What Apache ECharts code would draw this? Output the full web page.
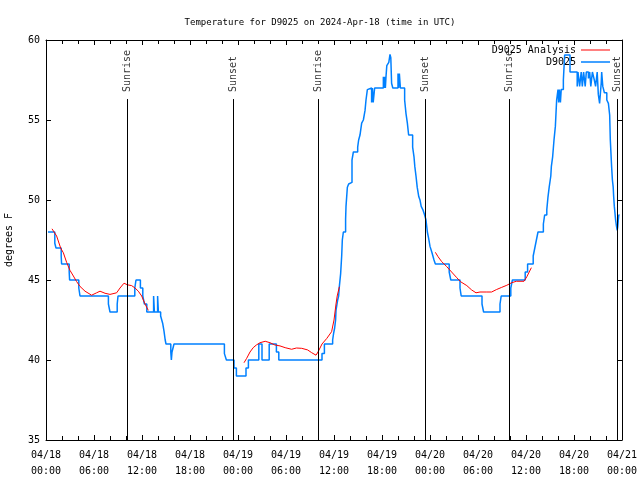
<!DOCTYPE html>
<html><head><meta charset="utf-8">
<script src="https://cdn.jsdelivr.net/npm/echarts@6/dist/echarts.min.js"></script>
<style>html,body{margin:0;padding:0;background:#fff}#c{width:640px;height:480px}</style>
</head><body><div id="c"></div>
<script>
const titleText = 'Temperature for D9025 on 2024-Apr-18 (time in UTC)';
const xTickLabels = ['04/18\n00:00','04/18\n06:00','04/18\n12:00','04/18\n18:00','04/19\n00:00','04/19\n06:00','04/19\n12:00','04/19\n18:00','04/20\n00:00','04/20\n06:00','04/20\n12:00','04/20\n18:00','04/21\n00:00'];
// hours since 04/18 00:00 UTC
const sunHours = [10.16, 23.42, 34.04, 47.42, 57.9, 71.46];
const sunNames = ['Sunrise','Sunset','Sunrise','Sunset','Sunrise','Sunset'];

// observed (step changes): hour, temperature F
const obsHours = [0.25,1.1,1.25,1.9,1.95,2.9,2.95,4.1,4.25,7.8,8.0,8.9,9.0,11.1,11.25,11.8,12.1,12.3,12.6,13.45,13.55,13.95,14.05,14.33,14.58,14.75,14.9,15.0,15.6,15.67,15.75,16.0,22.3,22.55,23.5,23.8,25.0,25.3,26.6,27.0,27.9,28.8,29.1,34.5,34.8,35.83,35.95,36.08,36.2,36.25,36.46,36.58,36.67,36.83,36.96,37.04,37.17,37.45,37.5,37.67,37.83,38.08,38.25,38.42,38.96,39.08,39.25,39.46,39.67,39.88,40.0,40.17,40.33,40.7,40.8,40.9,41.08,42.17,42.25,42.33,42.42,42.5,42.6,42.85,43.0,43.1,43.2,43.35,44.0,44.08,44.17,44.3,44.83,45.0,45.17,45.33,45.83,46.0,46.1,46.25,46.4,46.6,46.75,46.9,47.1,47.33,47.5,47.67,47.83,48.0,48.25,48.5,48.67,50.4,50.6,51.75,51.9,54.5,54.7,56.75,56.9,58.1,58.3,59.9,60.2,60.9,61.1,61.3,61.5,62.17,62.33,62.6,62.75,62.9,63.1,63.17,63.33,63.5,63.67,63.83,64.0,64.08,64.17,64.3,64.4,64.67,64.83,65.5,66.4,66.5,66.7,66.9,67.04,67.2,67.4,67.54,67.8,67.96,68.1,68.3,68.54,68.7,68.9,69.04,69.2,69.4,69.46,69.6,69.8,70.1,70.3,70.46,70.54,70.7,70.8,70.9,70.96,71.04,71.1,71.2,71.3,71.4,71.46,71.54,71.6,71.7];
const obsTemps = [48,47.3,47,46.5,46,45.5,45,44.5,44,43.5,43,43.5,44,44.5,45,44.5,44,43.5,43,44,43,44,43,42.75,42.3,41.8,41.25,41,40.5,40,40.5,41,40.4,40,39.5,39,39.5,40,41,40,41,40.5,40,40.4,41,41.25,41.67,42,42.5,43.1,43.75,44,44.6,45.4,46.5,47.5,48,48.8,49.6,50.8,51,51.1,52.5,53,53.3,53.75,54.06,54.8,55,55.6,56.25,56.9,57,56.1,57,56.1,57,57.7,57,57.7,57,57.7,58.4,58.6,59.1,58.9,57.3,57,57.9,57,57.9,57,56.25,55.4,54.8,54.06,53.3,52.7,52.1,51.5,50.8,50.2,50,49.6,49.4,49.06,48.75,48,47.6,47.1,46.7,46.25,46,45.5,45,44.5,44,43.5,43,43.5,44,44.5,45,45.5,46,46.5,47,47.5,48,48.5,49.06,49.4,50.2,50.8,51.5,52.1,52.7,53.75,54.6,56.25,56.9,56.1,56.9,56.1,56.9,57.5,59.06,58,57.1,58,57.1,58,57.1,58,57.1,58,57.6,58,57.1,58,57.5,57.1,58,56.6,56.04,57.3,58,57.1,56.7,56.25,56.04,55.3,53.75,52.1,51.25,50.8,50.2,49.6,49.3,48.75,48.4,48.1,48.3,48.75,49.06,49.06];

// analysis segments: hour, temperature F
const anaHours1 = [0.75,1.33,1.83,2.17,2.58,3.0,3.42,3.83,4.25,4.88,5.7,6.33,6.75,7.38,8.0,8.83,9.25,9.75,10.17,10.7,11.13,11.54,11.96,12.38,12.79];
const anaTemps1 = [48.2,47.75,47.0,46.7,46.1,45.6,45.25,44.9,44.6,44.3,44.05,44.2,44.3,44.17,44.1,44.2,44.5,44.8,44.7,44.65,44.5,44.3,44.0,43.5,43.1];
const anaHours2 = [24.75,25.08,25.5,25.9,26.3,26.75,27.4,28.0,28.6,29.25,29.9,30.7,31.3,31.96,32.7,33.2,33.75,34.0,34.5,35.1,35.7,36.0,36.25,36.4,36.67];
const anaTemps2 = [39.83,40.1,40.5,40.77,40.94,41.08,41.17,41.08,40.94,40.88,40.77,40.67,40.75,40.73,40.63,40.46,40.3,40.5,41.0,41.35,41.77,42.5,43.5,44.0,44.58];
const anaHours3 = [48.67,49.0,49.46,50.1,50.7,51.3,51.8,52.6,53.2,53.75,54.25,55.1,55.7,56.3,56.96,57.6,58.2,58.8,59.75,60.1,60.4,60.67];
const anaTemps3 = [46.73,46.46,46.15,45.83,45.5,45.17,44.9,44.65,44.38,44.2,44.25,44.25,44.25,44.4,44.54,44.67,44.83,44.92,44.92,45.2,45.5,45.77];

const FONT = 'DejaVu Sans Mono';
const zip = (a, b) => a.map((v, i) => [v, b[i]]);
const anaData = zip(anaHours1, anaTemps1).concat([[null, null]], zip(anaHours2, anaTemps2), [[null, null]], zip(anaHours3, anaTemps3)).map(p => p[0] === null ? '-' : p);
const obsData = zip(obsHours, obsTemps);
const SUN_LINE_TOP = 56.31, SUN_LABEL_Y = 56.75, YMIN = 35, YMAX = 60;

const chart = echarts.init(document.getElementById('c'), null, {renderer: 'canvas'});
const axisCommon = {
  axisLine: {show: true, onZero: false, lineStyle: {color: '#000', width: 1}},
  splitLine: {show: false}
};
const legendText = {fontFamily: FONT, fontSize: 10, color: '#000'};
chart.setOption({
  animation: false,
  backgroundColor: '#fff',
  title: {text: titleText, left: 'center', top: 13, textStyle: {fontFamily: FONT, fontSize: 9, fontWeight: 'normal', color: '#000'}},
  legend: [
    {data: [{name: 'D9025 Analysis', icon: 'rect', itemStyle: {color: '#ff0000'}}], orient: 'vertical', align: 'right', right: 30, top: 45, padding: 0,
     itemWidth: 29, itemHeight: 1, textStyle: legendText},
    {data: [{name: 'D9025', icon: 'rect', itemStyle: {color: '#0080ff'}}], orient: 'vertical', align: 'right', right: 30, top: 57, padding: 0,
     itemWidth: 29, itemHeight: 1.5, textStyle: legendText}
  ],
  grid: {left: 46, right: 18, top: 40, bottom: 40, containLabel: false, outerBoundsMode: 'none'},
  xAxis: [
    Object.assign({type: 'value', position: 'bottom', min: 0, max: 72, interval: 6,
      axisTick: {show: true, inside: true, length: 5, lineStyle: {color: '#000'}},
      minorTick: {show: true, splitNumber: 3, length: 4, lineStyle: {color: '#000'}},
      axisLabel: {fontFamily: FONT, fontSize: 10, color: '#000', lineHeight: 16, margin: 7,
        formatter: v => xTickLabels[Math.round(v / 6)]}}, axisCommon),
    Object.assign({type: 'value', position: 'top', min: 0, max: 72, interval: 6,
      axisTick: {show: true, inside: true, length: 5, lineStyle: {color: '#000'}},
      minorTick: {show: true, splitNumber: 3, length: 4, lineStyle: {color: '#000'}},
      axisLabel: {show: false}}, axisCommon)
  ],
  yAxis: [
    Object.assign({type: 'value', position: 'left', min: YMIN, max: YMAX, interval: 5,
      name: 'degrees F', nameLocation: 'middle', nameRotate: 90, nameGap: 32,
      nameTextStyle: {fontFamily: FONT, fontSize: 10, color: '#000'},
      axisTick: {show: true, inside: true, length: 5, lineStyle: {color: '#000'}},
      axisLabel: {fontFamily: FONT, fontSize: 10, color: '#000', margin: 6}}, axisCommon),
    Object.assign({type: 'value', position: 'right', min: YMIN, max: YMAX, interval: 5,
      axisTick: {show: true, inside: true, length: 5, lineStyle: {color: '#000'}},
      axisLabel: {show: false}}, axisCommon)
  ],
  series: [
    {
      type: 'scatter', name: 'sun', silent: true, symbolSize: 1, itemStyle: {color: 'rgba(0,0,0,0)'},
      data: sunHours.map((h, i) => [h, SUN_LABEL_Y, sunNames[i]]),
      label: {show: true, position: 'inside', rotate: 90, align: 'left', verticalAlign: 'middle',
        formatter: p => p.value[2], fontFamily: FONT, fontSize: 10, color: '#000'},
      markLine: {silent: true, symbol: 'none', animation: false, label: {show: false},
        lineStyle: {color: '#000', width: 1, type: 'solid'},
        data: sunHours.map(h => [{coord: [h, YMIN]}, {coord: [h, SUN_LINE_TOP]}])}
    },
    {
      type: 'line', name: 'D9025', data: obsData, step: 'end', showSymbol: false, symbol: 'none',
      lineStyle: {color: '#0080ff', width: 1.5}, itemStyle: {color: '#0080ff'}
    },
    {
      type: 'line', name: 'D9025 Analysis', data: anaData, showSymbol: false, symbol: 'none', connectNulls: false,
      lineStyle: {color: '#ff0000', width: 1}, itemStyle: {color: '#ff0000'}
    }
  ]
});
</script></body></html>
